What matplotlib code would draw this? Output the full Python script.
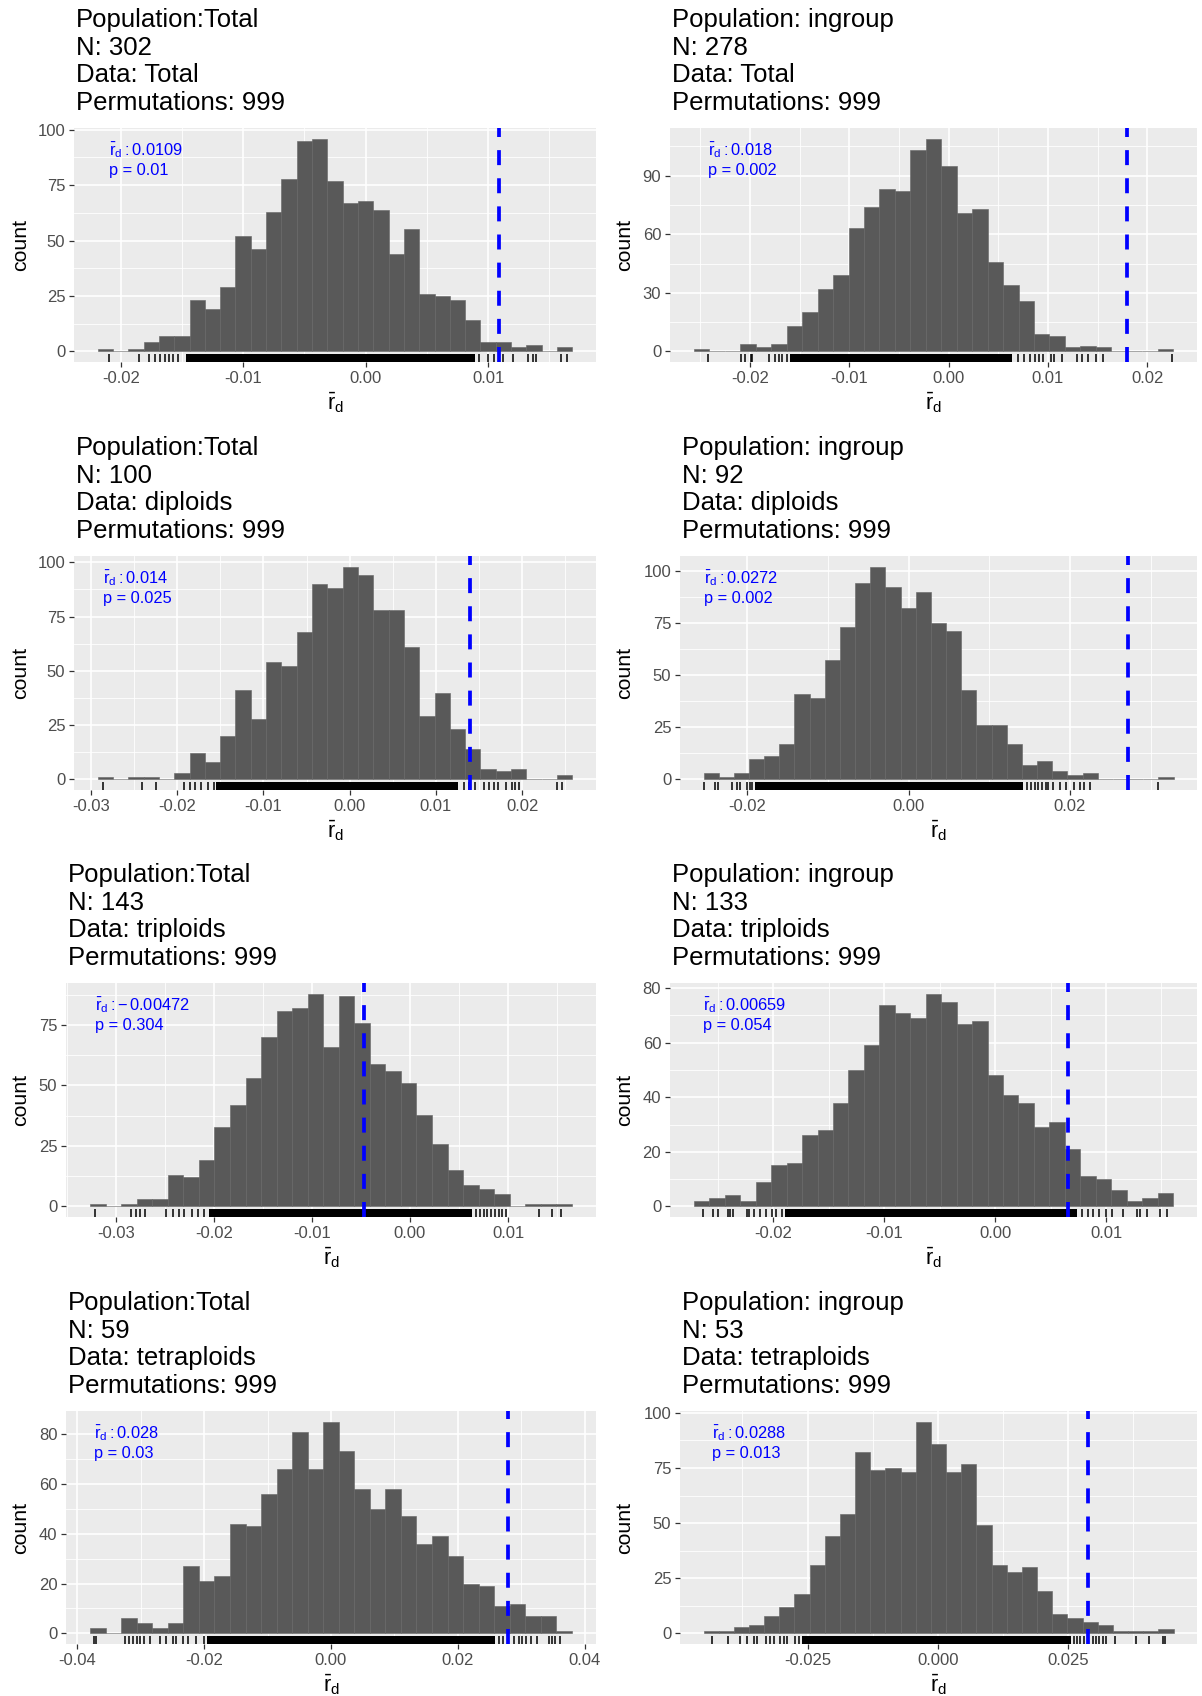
import numpy as np
import matplotlib
matplotlib.use("Agg")
from matplotlib import pyplot as plt
from matplotlib.transforms import blended_transform_factory

plt.rcParams['font.family'] = ['Liberation Sans', 'DejaVu Sans']
plt.rcParams['mathtext.fontset'] = 'custom'
plt.rcParams['mathtext.rm'] = 'Liberation Sans'
plt.rcParams['mathtext.it'] = 'Liberation Sans'
plt.rcParams['mathtext.bf'] = 'Liberation Sans:bold'

# ---- data ----
# histogram counts (31 bins each), first bin edge and bin width
counts_tot_tot = [1, 0, 1, 4, 7, 7, 23, 19, 29, 52, 46, 63, 78, 95, 96, 77, 67, 68, 64, 44, 55, 26, 25, 23, 14, 4, 4, 2, 3, 0, 2]
counts_in_tot = [1, 0, 0, 4, 2, 4, 13, 20, 32, 39, 63, 74, 83, 82, 103, 109, 95, 71, 73, 46, 34, 26, 9, 8, 2, 3, 2, 0, 0, 0, 1]
counts_tot_dip = [1, 0, 1, 1, 0, 3, 12, 8, 20, 41, 28, 54, 52, 68, 90, 88, 98, 94, 78, 78, 61, 29, 40, 23, 14, 5, 4, 5, 0, 0, 2]
counts_in_dip = [3, 1, 3, 10, 11, 17, 41, 39, 57, 73, 94, 102, 92, 82, 90, 75, 71, 43, 26, 26, 17, 7, 9, 4, 2, 3, 0, 0, 0, 0, 1]
counts_tot_tri = [1, 0, 1, 3, 3, 13, 12, 19, 33, 42, 53, 70, 81, 82, 88, 66, 87, 76, 59, 56, 51, 38, 26, 15, 9, 7, 5, 0, 1, 1, 1]
counts_in_tri = [2, 3, 4, 2, 9, 15, 16, 26, 28, 38, 50, 59, 74, 71, 69, 78, 75, 67, 68, 48, 41, 38, 29, 31, 21, 11, 10, 6, 2, 3, 5]
counts_tot_tet = [2, 0, 6, 4, 2, 4, 27, 21, 23, 44, 43, 56, 66, 81, 66, 85, 73, 58, 50, 58, 47, 36, 39, 31, 20, 19, 11, 12, 7, 7, 1]
counts_in_tet = [1, 1, 3, 4, 8, 12, 18, 31, 44, 54, 82, 74, 75, 73, 96, 86, 73, 77, 49, 31, 28, 30, 19, 9, 7, 5, 4, 1, 1, 1, 2]

bin_start = [-0.021875, -0.02562, -0.02921, -0.0254, -0.03262, -0.02717, -0.038, -0.04496]
bin_width = [0.00125, 0.001555, 0.001775, 0.001878, 0.001585, 0.001394, 0.002452, 0.002908]

# observed statistic and p value
rd_obs = [0.0109, 0.018, 0.014, 0.0272, -0.00472, 0.00659, 0.028, 0.0288]
rd_text = ["0.0109", "0.018", "0.014", "0.0272", "-\\,0.00472", "0.00659", "0.028", "0.0288"]
p_text = ["0.01", "0.002", "0.025", "0.002", "0.304", "0.054", "0.03", "0.013"]

# titles
population = ["Population:Total", "Population: ingroup"] * 4
n_samples = [302, 278, 100, 92, 143, 133, 59, 53]
data_set = ["Total", "Total", "diploids", "diploids", "triploids", "triploids", "tetraploids", "tetraploids"]
permutations = 999

# rug: sparse ticks in the tails plus the dense core interval
rug_left = [
    [-0.02094, -0.0185, -0.01766, -0.01719, -0.01678, -0.01641, -0.01609, -0.01572, -0.01531],
    [-0.02423, -0.02088, -0.0205, -0.01992, -0.01981, -0.01808, -0.0175, -0.01704, -0.01673, -0.01627],
    [-0.02863, -0.02404, -0.02248, -0.01915, -0.01848, -0.01794, -0.01728, -0.01638, -0.01572],
    [-0.02535, -0.02398, -0.02365, -0.02186, -0.02125, -0.02092, -0.02007, -0.01959, -0.01936],
    [-0.03215, -0.02844, -0.02797, -0.02758, -0.02707, -0.02484, -0.02414, -0.02355, -0.02305, -0.02219, -0.0216, -0.02102],
    [-0.02631, -0.02541, -0.025, -0.02414, -0.0239, -0.02369, -0.02241, -0.02217, -0.02172, -0.02121, -0.02069, -0.02017, -0.01976, -0.01921],
    [-0.0374, -0.0371, -0.03257, -0.03184, -0.03124, -0.03063, -0.03015, -0.02943, -0.02852, -0.02701, -0.0261, -0.02489, -0.02441, -0.02338, -0.02248, -0.02127, -0.02006],
    [-0.04335, -0.0402, -0.03801, -0.03655, -0.03523, -0.03472, -0.0329, -0.03216, -0.03143, -0.03034, -0.0296, -0.02887, -0.02741, -0.02668],
]
rug_core = [(-0.01469, 0.00891), (-0.016, 0.00642), (-0.0155, 0.0126), (-0.019, 0.01416),
            (-0.0205, 0.00633), (-0.019, 0.00741), (-0.0195, 0.0259), (-0.026, 0.02558)]
rug_right = [
    [0.00922, 0.01, 0.01047, 0.01125, 0.01203, 0.01322, 0.01369, 0.01391, 0.01594, 0.01641],
    [0.007, 0.00758, 0.00815, 0.00873, 0.00912, 0.0095, 0.01027, 0.01058, 0.01142, 0.01296, 0.01342, 0.01404, 0.01488, 0.01558, 0.02246],
    [0.01322, 0.01389, 0.01456, 0.01554, 0.01612, 0.01679, 0.01723, 0.01812, 0.01879, 0.01923, 0.01968, 0.02404, 0.02458],
    [0.01473, 0.01511, 0.01568, 0.01605, 0.01653, 0.017, 0.01733, 0.01794, 0.01874, 0.01945, 0.02049, 0.02125, 0.02172, 0.02252, 0.03088],
    [0.00672, 0.00711, 0.00758, 0.00789, 0.00828, 0.00867, 0.00906, 0.00938, 0.00977, 0.01316, 0.01453, 0.01539],
    [0.00783, 0.00838, 0.00886, 0.00941, 0.01, 0.01052, 0.01155, 0.01276, 0.0131, 0.01369, 0.01483, 0.01552],
    [0.02647, 0.02707, 0.02888, 0.02961, 0.03021, 0.03082, 0.0316, 0.03251, 0.03444, 0.03492, 0.03535, 0.03613],
    [0.0261, 0.02668, 0.02727, 0.028, 0.02975, 0.03034, 0.03092, 0.03165, 0.03216, 0.03399, 0.03801, 0.04057, 0.04313, 0.04364],
]

# axis breaks
y_breaks = [[0, 25, 50, 75, 100], [0, 30, 60, 90], [0, 25, 50, 75, 100], [0, 25, 50, 75, 100],
            [0, 25, 50, 75], [0, 20, 40, 60, 80], [0, 20, 40, 60, 80], [0, 25, 50, 75, 100]]
x_breaks = [[-0.02, -0.01, 0.0, 0.01], [-0.02, -0.01, 0.0, 0.01, 0.02], [-0.03, -0.02, -0.01, 0.0, 0.01, 0.02],
            [-0.02, 0.0, 0.02], [-0.03, -0.02, -0.01, 0.0, 0.01], [-0.02, -0.01, 0.0, 0.01],
            [-0.04, -0.02, 0.0, 0.02, 0.04], [-0.025, 0.0, 0.025]]
x_decimals = [2, 2, 2, 2, 2, 2, 2, 3]

all_counts = [counts_tot_tot, counts_in_tot, counts_tot_dip, counts_in_dip,
              counts_tot_tri, counts_in_tri, counts_tot_tet, counts_in_tet]

# ---- layout (pixels) ----
W, H = 1202, 1696
row_top = [128, 556, 983, 1411]
row_bot = [362, 790, 1217, 1644]
col_right = [596, 1197]
panel_left = [74, 670, 74, 680, 66, 670, 66, 680]
count_x = [21, 625]
title_y0 = [20, 448, 875, 1303]
title_step = 27.6

BG = '#EBEBEB'
BAR = '#595959'
GREY_TXT = '#4D4D4D'

fig = plt.figure(figsize=(W / 100, H / 100), dpi=100)


def minor_breaks(br, lo, hi):
    step = br[1] - br[0]
    ext = [br[0] - step] + list(br) + [br[-1] + step]
    mids = [(a + b) / 2 for a, b in zip(ext[:-1], ext[1:])]
    return [m for m in mids if lo <= m <= hi]


for i in range(8):
    r, c = i // 2, i % 2
    left, right = panel_left[i], col_right[c]
    top, bot = row_top[r], row_bot[r]
    ax = fig.add_axes([left / W, 1 - bot / H, (right - left) / W, (bot - top) / H])
    ax.set_facecolor(BG)
    for s in ax.spines.values():
        s.set_visible(False)

    counts = np.array(all_counts[i])
    edges = bin_start[i] + bin_width[i] * np.arange(len(counts) + 1)
    lo, hi = edges[0], edges[-1]
    rx = hi - lo
    xlim = (lo - 0.05 * rx, hi + 0.05 * rx)
    ymax = counts.max()
    ylim = (-0.05 * ymax, 1.05 * ymax)

    # grid
    for m in minor_breaks(y_breaks[i], *ylim):
        ax.axhline(m, color='white', lw=0.6, zorder=0)
    for m in minor_breaks(x_breaks[i], *xlim):
        ax.axvline(m, color='white', lw=0.6, zorder=0)
    for b in y_breaks[i]:
        ax.axhline(b, color='white', lw=1.2, zorder=0)
    for b in x_breaks[i]:
        ax.axvline(b, color='white', lw=1.2, zorder=0)

    ax.bar(edges[:-1], counts, width=bin_width[i], align='edge', color=BAR,
           edgecolor='#646464', linewidth=0.4, zorder=2)

    # rug
    trans = blended_transform_factory(ax.transData, ax.transAxes)
    ticks = rug_left[i] + rug_right[i]
    ax.vlines(ticks, 0, 0.033, transform=trans, color='black', lw=1.1, zorder=3)
    c0, c1 = rug_core[i]
    ax.add_patch(plt.Rectangle((c0, 0), c1 - c0, 0.033, transform=trans,
                               facecolor='black', edgecolor='none', zorder=3))

    # observed value
    ax.plot([rd_obs[i], rd_obs[i]], [0, 1], transform=trans, color='#0000FF',
            lw=2.7, linestyle=(0, (4, 3.5)), solid_capstyle='butt', zorder=4)

    x0 = min(ticks)
    ax.annotate(r'$\bar{r}_{d}:' + rd_text[i] + '$', xy=(x0, 1), xycoords=trans,
                xytext=(0, -22 * 0.72), textcoords='offset points', ha='left', va='center',
                color='#0000FF', fontsize=11.8)
    ax.annotate('p = ' + p_text[i], xy=(x0, 1), xycoords=trans,
                xytext=(0, -42.5 * 0.72), textcoords='offset points', ha='left', va='center',
                color='#0000FF', fontsize=11.8)

    ax.set_xlim(*xlim)
    ax.set_ylim(*ylim)
    ax.set_yticks(y_breaks[i])
    ax.set_yticklabels([str(b) for b in y_breaks[i]])
    ax.set_xticks(x_breaks[i])
    ax.set_xticklabels([('%.' + str(x_decimals[i]) + 'f') % b for b in x_breaks[i]])
    ax.tick_params(length=3.8, width=0.9, color='#333333', labelcolor=GREY_TXT,
                   labelsize=12, pad=2.5)

    ax.set_xlabel(r'$\bar{r}_{d}$', fontsize=15.5, labelpad=3.5)

    fig.text(count_x[c] / W, 1 - (top + bot) / 2 / H, 'count', rotation=90,
             ha='center', va='center', fontsize=15.3)

    lines = [population[i], 'N: %d' % n_samples[i], 'Data: %s' % data_set[i],
             'Permutations: %d' % permutations]
    for k, t in enumerate(lines):
        fig.text((left + 2) / W, 1 - (title_y0[r] + k * title_step) / H, t,
                 ha='left', va='center', fontsize=18.5)

fig.savefig('out.png', dpi=100, facecolor='white')
